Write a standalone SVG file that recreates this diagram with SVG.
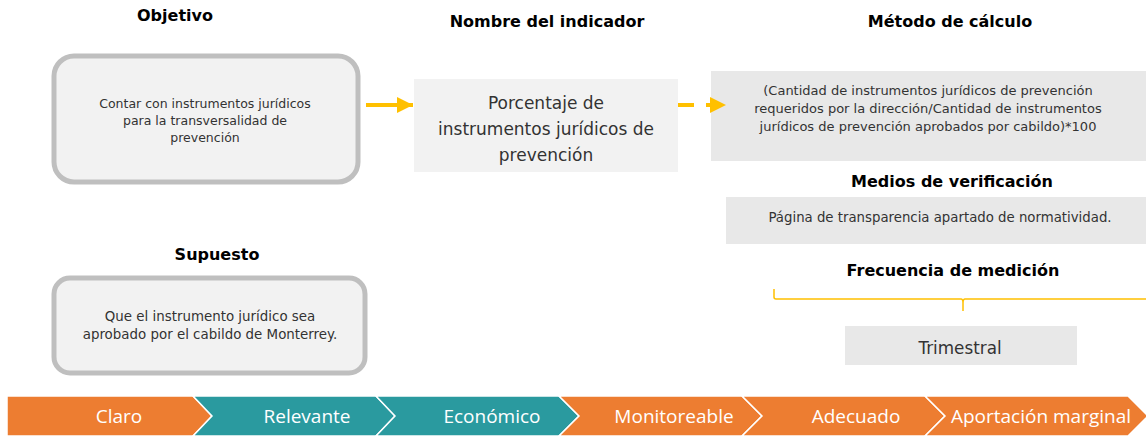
<svg xmlns="http://www.w3.org/2000/svg" width="1146" height="436" viewBox="0 0 1146 436">
<style>
.title{font-family:"DejaVu Sans","Liberation Sans",sans-serif;font-weight:bold;font-size:16px;fill:#000;text-anchor:middle}
.body{font-family:"DejaVu Sans","Liberation Sans",sans-serif;fill:#333;text-anchor:middle}
.rbox{fill:#f2f2f2;stroke:#bfbfbf;stroke-width:5}
.lbox{fill:#f2f2f2}
.gbox{fill:#e8e8e8}
.chev{stroke:#fff;stroke-width:1.5}
.orange{fill:#ed7d31}
.teal{fill:#2a9a9f}
.ctext{font-family:"Open Sans","Liberation Sans",sans-serif;font-size:19px;fill:#fff;text-anchor:middle}
.conn{stroke:#ffc000;stroke-width:4;fill:none}
</style>
<defs>
<marker id="ah" viewBox="0 0 10 10" refX="10" refY="5" markerWidth="4" markerHeight="4" markerUnits="strokeWidth" orient="auto">
<path d="M0,0 L10,5 L0,10 z" fill="#ffc000"/>
</marker>
</defs>
<rect width="1146" height="436" fill="#fff"/>

<g id="objetivo">
<text class="title" x="175" y="21">Objetivo</text>
<rect class="rbox" x="54" y="56" width="304" height="126" rx="20"/>
<text class="body" font-size="12.5" x="205" y="108">Contar con instrumentos jurídicos</text>
<text class="body" font-size="12.5" x="205" y="125">para la transversalidad de</text>
<text class="body" font-size="12.5" x="205" y="142">prevención</text>
</g>

<g id="indicador">
<text class="title" x="547" y="27">Nombre del indicador</text>
<rect class="lbox" x="414" y="79" width="264" height="93"/>
<text class="body" font-size="17" x="546" y="109">Porcentaje de</text>
<text class="body" font-size="17" x="546" y="135">instrumentos jurídicos de</text>
<text class="body" font-size="17" x="546" y="161">prevención</text>
</g>

<g id="metodo">
<text class="title" x="950" y="27">Método de cálculo</text>
<rect class="gbox" x="711" y="71" width="435" height="90"/>
<text class="body" font-size="13" x="928" y="95">(Cantidad de instrumentos jurídicos de prevención</text>
<text class="body" font-size="13" x="928" y="113">requeridos por la dirección/Cantidad de instrumentos</text>
<text class="body" font-size="13" x="928" y="131">jurídicos de prevención aprobados por cabildo)*100</text>
</g>

<g id="medios">
<text class="title" x="952" y="187">Medios de verificación</text>
<rect class="gbox" x="726" y="197" width="420" height="47"/>
<text class="body" font-size="13.3" x="940" y="222">Página de transparencia apartado de normatividad.</text>
</g>

<g id="frecuencia">
<text class="title" x="953" y="276">Frecuencia de medición</text>
<rect class="gbox" x="845" y="326" width="232" height="39"/>
<text class="body" font-size="16.8" x="960" y="354">Trimestral</text>
</g>

<g id="supuesto">
<text class="title" x="217" y="260">Supuesto</text>
<rect class="rbox" x="54" y="278" width="311" height="95" rx="16"/>
<text class="body" font-size="13.4" x="210" y="321">Que el instrumento jurídico sea</text>
<text class="body" font-size="13.4" x="210" y="339">aprobado por el cabildo de Monterrey.</text>
</g>

<g id="connectors">
<line class="conn" x1="366" y1="105" x2="413" y2="105" marker-end="url(#ah)"/>
<line class="conn" x1="678" y1="105" x2="726" y2="105" stroke-dasharray="16,12" marker-end="url(#ah)"/>
<path d="M774,289 L774,297 Q774,299 776,299 L961,299 Q963,299 963,303 L963,311 M963,303 Q963,299 965,299 L1146,299" stroke="#ffc000" stroke-width="1.5" fill="none"/>
</g>

<g id="criterios">
<polygon class="chev orange" points="7,396 193,396 212,416 193,436 7,436"/>
<polygon class="chev teal" points="193,396 376,396 395,416 376,436 193,436 212,416"/>
<polygon class="chev teal" points="376,396 559,396 579,416 559,436 376,436 395,416"/>
<polygon class="chev orange" points="559,396 742,396 762,416 742,436 559,436 579,416"/>
<polygon class="chev orange" points="742,396 925,396 945,416 925,436 742,436 762,416"/>
<polygon class="chev orange" points="925,396 1128,396 1148,416 1128,436 925,436 945,416"/>
<text class="ctext" x="119" y="423">Claro</text>
<text class="ctext" x="307" y="423">Relevante</text>
<text class="ctext" x="492" y="423">Económico</text>
<text class="ctext" x="674" y="423">Monitoreable</text>
<text class="ctext" x="856" y="423">Adecuado</text>
<text class="ctext" x="1041" y="423">Aportación marginal</text>
</g>
</svg>
